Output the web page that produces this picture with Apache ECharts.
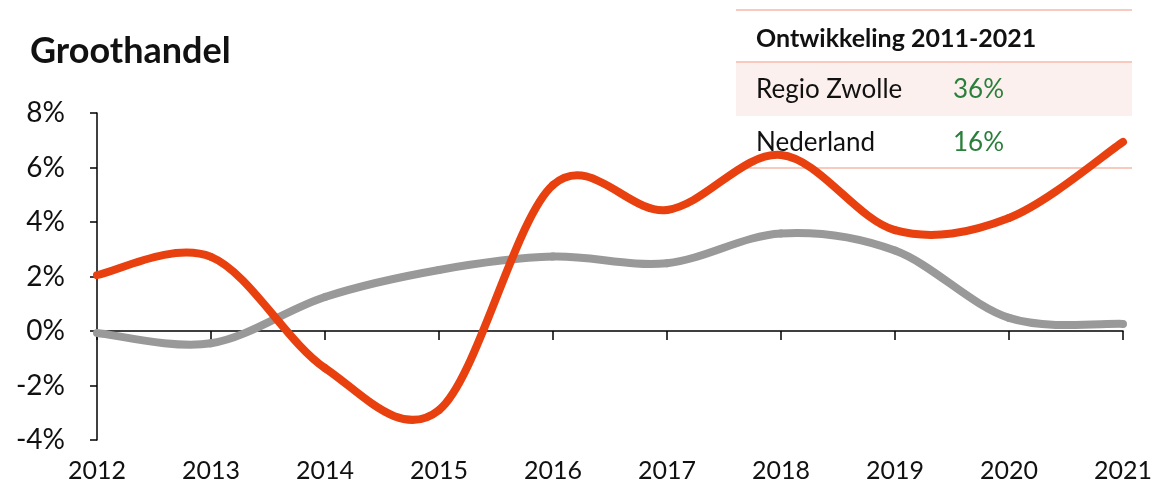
<!DOCTYPE html>
<html>
<head>
<meta charset="utf-8">
<script src="https://cdn.jsdelivr.net/npm/echarts@6/dist/echarts.min.js"></script>
<style>
html,body{margin:0;padding:0;background:#fff;}
#chart{width:1159px;height:488px;}
</style>
</head>
<body>
<div id="chart"></div>
<script>
var years = ['2012','2013','2014','2015','2016','2017','2018','2019','2020','2021'];
var regioZwolle = [2.05, 2.72, -1.36, -2.9, 5.36, 4.44, 6.46, 3.7, 4.15, 6.94];
var nederland = [-0.07, -0.45, 1.25, 2.24, 2.73, 2.49, 3.58, 2.95, 0.48, 0.26];
var tableTitle = 'Ontwikkeling 2011-2021';
var tableRows = [['Regio Zwolle', '36%'], ['Nederland', '16%']];

var FONT = 'Lato, "Open Sans", sans-serif';
var chart = echarts.init(document.getElementById('chart'));

// Excel-like smoothed line: Catmull-Rom Bezier segments computed from data via the axis scales
function smoothRender(vals, color, width) {
  return function (params, api) {
    var i = params.dataIndex;
    var n = vals.length;
    if (i >= n - 1) return null;
    var P = function (j) { j = Math.max(0, Math.min(n - 1, j)); return api.coord([j, vals[j]]); };
    var p0 = P(i - 1), p1 = P(i), p2 = P(i + 1), p3 = P(i + 2);
    var dist = function (a, b) { return Math.sqrt((a[0]-b[0])*(a[0]-b[0]) + (a[1]-b[1])*(a[1]-b[1])); };
    var d12 = dist(p1, p2), d02 = dist(p0, p2), d13 = dist(p1, p3);
    var f1 = 1/6, f2 = 1/6;
    if (d02 / 6 > d12 / 2 && d02 > 0) f1 = d12 / d02 / 2;
    if (d13 / 6 > d12 / 2 && d13 > 0) f2 = d12 / d13 / 2;
    return {
      type: 'bezierCurve',
      shape: {
        x1: p1[0], y1: p1[1], x2: p2[0], y2: p2[1],
        cpx1: p1[0] + f1 * (p2[0] - p0[0]), cpy1: p1[1] + f1 * (p2[1] - p0[1]),
        cpx2: p2[0] - f2 * (p3[0] - p1[0]), cpy2: p2[1] - f2 * (p3[1] - p1[1])
      },
      style: { stroke: color, lineWidth: width, fill: null, lineCap: 'round' }
    };
  };
}

var graphics = [
  {type:'text', x:30, y:51, style:{text:'Groothandel', font:'bold 36px ' + FONT, fill:'#111', textVerticalAlign:'middle'}},
  {type:'rect', shape:{x:736, y:62, width:396, height:54}, style:{fill:'#FCF0EE'}, z:0},
  {type:'line', shape:{x1:736, y1:10, x2:1132, y2:10}, style:{stroke:'#F8C9BD', lineWidth:2}, z:1},
  {type:'line', shape:{x1:736, y1:62, x2:1132, y2:62}, style:{stroke:'#F8C9BD', lineWidth:2}, z:1},
  {type:'line', shape:{x1:736, y1:168, x2:1132, y2:168}, style:{stroke:'#F8C9BD', lineWidth:2}, z:1},
  {type:'text', x:756, y:39, style:{text:tableTitle, font:'bold 25px ' + FONT, fill:'#111', textVerticalAlign:'middle'}, z:2}
];
tableRows.forEach(function(r, i){
  var cy = 90 + i*53;
  graphics.push({type:'text', x:756, y:cy, style:{text:r[0], font:'26px ' + FONT, fill:'#111', textVerticalAlign:'middle'}, z:2});
  graphics.push({type:'text', x:953, y:cy, style:{text:r[1], font:'26px ' + FONT, fill:'#2A7F3A', textVerticalAlign:'middle'}, z:2});
});

chart.setOption({
  animation:false,
  backgroundColor:'#fff',
  grid:{left:97, right:36, top:113, bottom:48},
  xAxis:[
    {type:'category', data:years, boundaryGap:false,
     axisLine:{onZero:true, lineStyle:{color:'#000', width:1.5}},
     axisTick:{show:true, length:9, inside:false, lineStyle:{color:'#000', width:1.5}, alignWithLabel:true},
     axisLabel:{show:false}, splitLine:{show:false}},
    {type:'category', data:years, boundaryGap:false, position:'bottom',
     axisLine:{show:false, onZero:false}, axisTick:{show:false}, splitLine:{show:false},
     axisLabel:{show:true, margin:18, fontSize:25, color:'#111', fontFamily:FONT, interval:0}}
  ],
  yAxis:{type:'value', min:-4, max:8, interval:2,
    axisLine:{show:true, lineStyle:{color:'#000', width:1.5}},
    axisTick:{show:true, length:7, lineStyle:{color:'#000', width:1.5}},
    axisLabel:{formatter:'{value}%', margin:32, fontSize:28, color:'#111', fontFamily:FONT},
    splitLine:{show:false}},
  series:[
    {name:'Nederland', type:'custom', xAxisIndex:0, renderItem:smoothRender(nederland, '#999999', 8),
     data:nederland.map(function(v,i){return [i, v];}), encode:{x:0, y:1}, z:3, silent:true},
    {name:'Regio Zwolle', type:'custom', xAxisIndex:0, renderItem:smoothRender(regioZwolle, '#E8410F', 8),
     data:regioZwolle.map(function(v,i){return [i, v];}), encode:{x:0, y:1}, z:4, silent:true}
  ],
  graphic:graphics
});
</script>
</body>
</html>
